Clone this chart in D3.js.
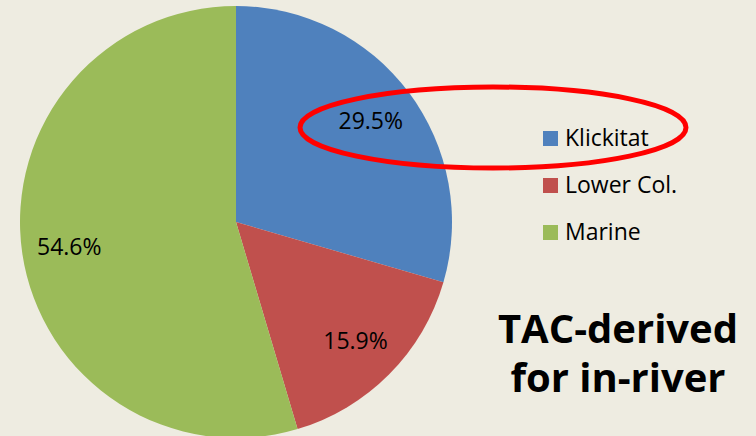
<!DOCTYPE html>
<html>
<head>
<meta charset="utf-8">
<script src="https://cdn.jsdelivr.net/npm/d3@7"></script>
<style>
  html, body { margin: 0; padding: 0; background: #EEECE1; }
  svg { display: block; }
  text { font-family: "Open Sans", sans-serif; fill: #000; }
</style>
</head>
<body>
<svg id="chart"></svg>
<script>
const categories = ['Klickitat', 'Lower Col.', 'Marine'];
const shares = [29.5, 15.9, 54.6];
const colors = ['#4F81BD', '#C0504D', '#9BBB59'];
const titleLines = ['TAC-derived', 'for in-river'];

const width = 756, height = 436;
const cx = 236, cy = 222, radius = 216;

const svg = d3.select('#chart')
  .attr('width', width)
  .attr('height', height);

svg.append('rect')
  .attr('width', width)
  .attr('height', height)
  .attr('fill', '#EEECE1');

const data = categories.map((c, i) => ({ name: c, value: shares[i], color: colors[i] }));

const pie = d3.pie().sort(null).value(d => d.value);
const arc = d3.arc().innerRadius(0).outerRadius(radius);
const labelArc = d3.arc().innerRadius(radius * 0.78).outerRadius(radius * 0.78);

const g = svg.append('g')
  .attr('transform', `translate(${cx},${cy})`);

const slices = pie(data);

g.selectAll('path.slice')
  .data(slices)
  .enter().append('path')
  .attr('class', 'slice')
  .attr('d', arc)
  .attr('fill', d => d.data.color);

g.selectAll('text.pct')
  .data(slices)
  .enter().append('text')
  .attr('class', 'pct')
  .attr('transform', d => `translate(${labelArc.centroid(d)})`)
  .attr('text-anchor', 'middle')
  .attr('dy', '0.36em')
  .style('font-size', '23px')
  .text(d => d.data.value.toFixed(1) + '%');

// legend
const legend = svg.append('g')
  .attr('transform', 'translate(543,131)');

const rows = legend.selectAll('g.row')
  .data(data)
  .enter().append('g')
  .attr('class', 'row')
  .attr('transform', (d, i) => `translate(0,${i * 47})`);

rows.append('rect')
  .attr('width', 15)
  .attr('height', 15)
  .attr('fill', d => d.color);

rows.append('text')
  .attr('x', 22)
  .attr('y', 15)
  .style('font-size', '23px')
  .text(d => d.name);

// highlight ellipse round the Klickitat value
svg.append('ellipse')
  .attr('cx', 493)
  .attr('cy', 127.5)
  .attr('rx', 193)
  .attr('ry', 40.5)
  .attr('fill', 'none')
  .attr('stroke', '#FF0000')
  .attr('stroke-width', 5);

// title
svg.selectAll('text.title')
  .data(titleLines)
  .enter().append('text')
  .attr('class', 'title')
  .attr('x', 618)
  .attr('y', (d, i) => 343 + i * 49)
  .attr('text-anchor', 'middle')
  .style('font-size', '40px')
  .style('font-weight', 'bold')
  .text(d => d);
</script>
</body>
</html>
